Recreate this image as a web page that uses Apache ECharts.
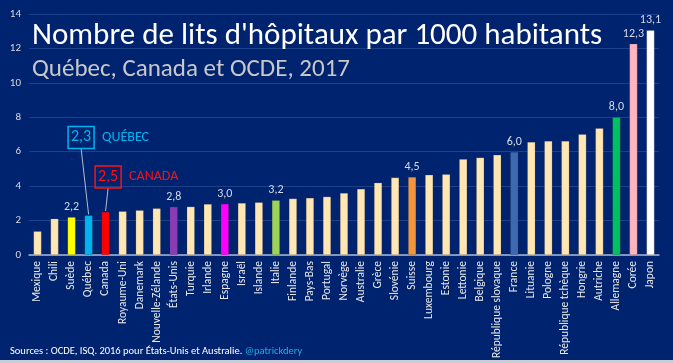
<!DOCTYPE html>
<html>
<head>
<meta charset="utf-8">
<script src="https://cdn.jsdelivr.net/npm/echarts@6/dist/echarts.min.js"></script>
<style>
html,body{margin:0;padding:0;background:#00236f;overflow:hidden;}
#c{width:673px;height:363px;}
</style>
</head>
<body>
<div id="c"></div>
<script>
const categories = ['Mexique','Chili','Suède','Québec','Canada','Royaume-Uni','Danemark','Nouvelle-Zélande','États-Unis','Turquie','Irlande','Espagne','Israël','Islande','Italie','Finlande','Pays-Bas','Portugal','Norvège','Australie','Grèce','Slovénie','Suisse','Luxembourg','Estonie','Lettonie','Belgique','République slovaque','France','Lituanie','Pologne','République tchèque','Hongrie','Autriche','Allemagne','Corée','Japon'];
const values = [1.38,2.11,2.2,2.3,2.5,2.54,2.6,2.71,2.8,2.81,2.96,2.97,3.02,3.06,3.18,3.28,3.32,3.39,3.6,3.84,4.2,4.5,4.53,4.66,4.69,5.57,5.66,5.82,5.98,6.56,6.62,6.62,7.02,7.37,8.0,12.27,13.05];
const highlightColors = {'Suède':'#ffff00','Québec':'#00b4f0','Canada':'#ff0000','États-Unis':'#8a3cb4','Espagne':'#ff00ff','Italie':'#9ed35a','Suisse':'#f0963c','France':'#3c69b0','Allemagne':'#00c060','Corée':'#ffb4be','Japon':'#ffffff'};
const labelled = ['Suède','États-Unis','Espagne','Italie','Suisse','France','Allemagne','Corée','Japon'];
const yTicks = [0,2,4,6,8,10,12,14];
const FONT = "Carlito, Lato, sans-serif";
const fmt = v => v.toFixed(1).replace('.', ',');

const chart = echarts.init(document.getElementById('c'));
const data = categories.map((c, i) => ({
  value: values[i],
  itemStyle: { color: highlightColors[c] || '#ffe6b2', borderColor: 'rgba(60,60,60,0.35)', borderWidth: 0.5 },
  label: { show: labelled.indexOf(c) >= 0 }
}));

chart.setOption({
  backgroundColor: '#00236f',
  animation: false,
  title: [
    { text: "Nombre de lits d'hôpitaux par 1000 habitants", left: 27, top: 16,
      textStyle: { color: '#ffffff', fontSize: 31, fontWeight: 'normal', fontFamily: FONT } },
    { text: 'Québec, Canada et OCDE, 2017', left: 27, top: 52,
      textStyle: { color: '#c8c8c8', fontSize: 25, fontWeight: 'normal', fontFamily: FONT } }
  ],
  grid: { left: 29, right: 14, top: 14, bottom: 108 },
  xAxis: {
    type: 'category', data: categories,
    axisLine: { lineStyle: { color: '#a9b6d4', width: 1.5 } },
    axisTick: { show: false },
    axisLabel: { rotate: 90, interval: 0, color: '#e8e8e8', fontSize: 11.5, fontFamily: FONT, margin: 6 }
  },
  yAxis: {
    type: 'value', min: 0, max: 14, interval: 2,
    axisLine: { show: false }, axisTick: { show: false },
    axisLabel: { color: '#d8d8d8', fontSize: 11, fontFamily: FONT, margin: 8,
      formatter: v => yTicks.indexOf(v) >= 0 ? String(v) : '' },
    splitLine: { lineStyle: { color: '#1d4188', width: 1 } }
  },
  series: [{
    type: 'bar', data: data, barWidth: 8,
    label: { position: 'top', distance: 4, color: '#d4dbe8', fontSize: 12, fontFamily: FONT,
      formatter: p => fmt(p.value) }
  }]
});

function pt(cat) {
  const i = categories.indexOf(cat);
  return chart.convertToPixel({ seriesIndex: 0 }, [cat, values[i]]);
}
const q = pt('Québec');
const ca = pt('Canada');
function annot(p, dx, dy, color, valText, name) {
  const bx = p[0] + dx, by = p[1] + dy, w = 26, h = 22;
  return [
    { type: 'line', shape: { x1: bx, y1: by + h / 2, x2: p[0], y2: p[1] - 1 },
      style: { stroke: '#b4bccc', lineWidth: 1 }, z: 50 },
    { type: 'rect', shape: { x: bx - w / 2, y: by - h / 2, width: w, height: h },
      style: { fill: 'transparent', stroke: color, lineWidth: 1.5 }, z: 50 },
    { type: 'text', x: bx, y: by, style: { text: valText, fill: color, fontSize: 16, fontFamily: FONT,
      align: 'center', verticalAlign: 'middle' }, z: 50 },
    { type: 'text', x: bx + w / 2 + 8, y: by, style: { text: name, fill: color, fontSize: 14, fontFamily: FONT,
      align: 'left', verticalAlign: 'middle' }, z: 50 }
  ];
}
chart.setOption({
  graphic: [].concat(
    annot(q, -7.5, -78, '#00b4f0', fmt(values[3]), 'QUÉBEC'),
    annot(ca, 2.5, -35, '#ff1010', fmt(values[4]), 'CANADA'),
    [
      { type: 'text', left: 10, top: 346, style: { rich: { a: { fill: '#ffffff', fontSize: 10.5, fontFamily: FONT }, b: { fill: '#1ab0e8', fontSize: 10.5, fontFamily: FONT } },
        text: '{a|Sources : OCDE, ISQ. 2016 pour États-Unis et Australie. }{b|@patrickdery}' } },
      { type: 'rect', shape: { x: 0, y: 360, width: 673, height: 3 }, style: { fill: '#c8ccd6' } }
    ]
  )
});
</script>
</body>
</html>
